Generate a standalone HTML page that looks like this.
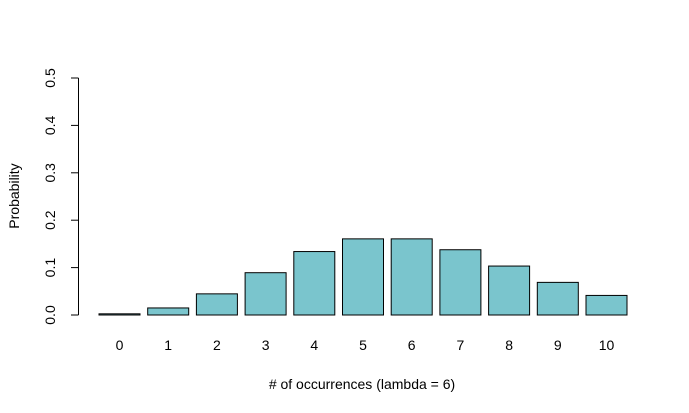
<!DOCTYPE html>
<html><head><meta charset="utf-8"><style>
body{margin:0;background:#fff}
svg{display:block;font-family:"Liberation Sans",Arial,sans-serif}
</style></head><body>
<svg id="chart" width="689" height="413"></svg>
<script>
const categories=[0,1,2,3,4,5,6,7,8,9,10];
const probabilities=[0.00248,0.01487,0.04462,0.08924,0.13385,0.16062,0.16062,0.13768,0.10326,0.06884,0.04130];
const yTicks=[0,0.1,0.2,0.3,0.4,0.5];
const yTickLabels=["0.0","0.1","0.2","0.3","0.4","0.5"];
const NS="http://www.w3.org/2000/svg";
const svg=document.getElementById('chart');
function y(v){return 315-v*474;}
function xc(i){return 119.5+i*48.7;}
function el(t,a,txt){const e=document.createElementNS(NS,t);for(const k in a)e.setAttribute(k,a[k]);if(txt!==undefined)e.textContent=txt;svg.appendChild(e);return e;}
probabilities.forEach((p,i)=>{
 const r=el('rect',{x:xc(i)-20.5,y:y(p),width:41,height:y(0)-y(p),fill:'#7AC5CD',stroke:'#000','stroke-width':1});
 
 
 const t=el('text',{x:xc(i),y:350,'font-size':14,'text-anchor':'middle'},String(categories[i]));
 
 
});
const ax=el('line',{x1:78.5,x2:78.5,y1:y(0),y2:y(0.5),stroke:'#000'});


yTicks.forEach((v,i)=>{
 const tk=el('line',{x1:71,x2:78.5,y1:y(v),y2:y(v),stroke:'#000'});
 
 
 const t=el('text',{x:0,y:0,'font-size':14,'text-anchor':'middle',transform:`translate(55,${y(v)}) rotate(-90)`},yTickLabels[i]);
 
 
});
const xt=el('text',{x:362,y:389,'font-size':14,'text-anchor':'middle'},'# of occurrences (lambda = 6)');


const yt=el('text',{x:0,y:0,'font-size':14,'text-anchor':'middle',transform:'translate(19,196) rotate(-90)'},'Probability');


</script>
</body></html>
